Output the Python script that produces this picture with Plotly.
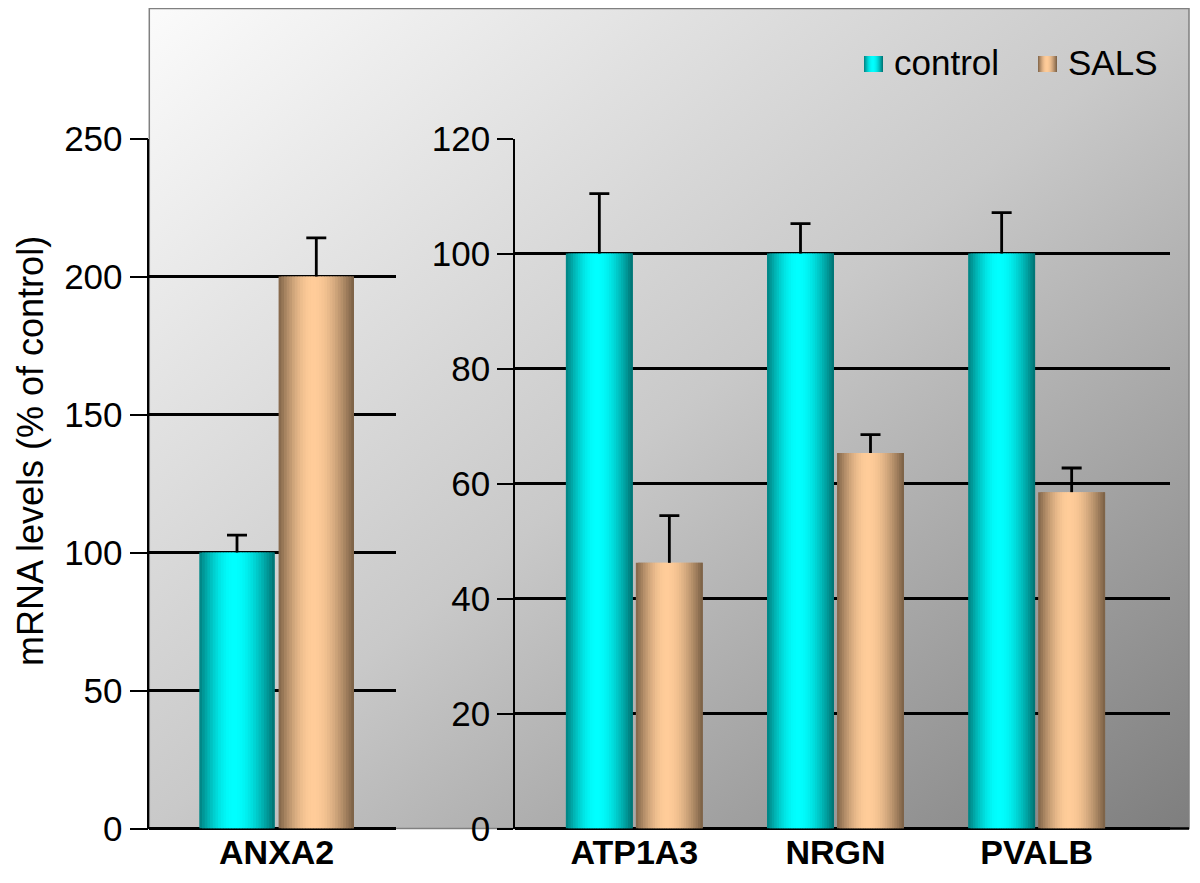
import base64
import math
import plotly.graph_objects as go

# ---------------- data ----------------
left_cats = ["ANXA2"]
left_control = [100]
left_sals = [200]
left_control_err = [6.3]
left_sals_err = [14.0]

right_cats = ["ATP1A3", "NRGN", "PVALB"]
right_control = [100, 100, 100]
right_sals = [46.2, 65.3, 58.5]
right_control_err = [10.4, 5.2, 7.1]
right_sals_err = [8.2, 3.2, 4.2]

series_names = ["control", "SALS"]
left_ticks = [0, 50, 100, 150, 200, 250]
right_ticks = [0, 20, 40, 60, 80, 100, 120]
y_title = "mRNA levels (% of control)"

# ---------------- style ----------------
OFF = 8                      # browser body margin
W, H = 1200 - OFF, 883 - OFF
FONT = "Liberation Sans, Arial, Helvetica, sans-serif"
CTRL_DARK_L, CTRL_BRIGHT, CTRL_DARK_R = (0, 128, 128), (0, 255, 255), (0, 112, 112)
SALS_DARK_L, SALS_BRIGHT, SALS_DARK_R = (128, 100, 72), (255, 204, 153), (120, 94, 68)


def px(x):
    return (x - OFF) / W


def py(y):
    return 1 - (y - OFF) / H


def shade(t, dl, br, dr):
    peak = 0.46
    if t < peak:
        f = math.sin(math.pi / 2 * t / peak)
        c0 = dl
    else:
        f = math.sin(math.pi / 2 * (1 - t) / (1 - peak))
        c0 = dr
    return "rgb(%d,%d,%d)" % tuple(round(a + (b - a) * f) for a, b in zip(c0, br))


fig = go.Figure()


def add_cylinder(cats, vals, errs, xa, ya, off0, w, cols, n=28):
    dl, br, dr = cols
    step = w / n
    for k in range(n):
        t = (k + 0.5) / n
        fig.add_trace(go.Bar(
            x=cats, y=vals, xaxis=xa, yaxis=ya,
            offset=off0 + k * step, width=min(step * 1.9, w - k * step),
            marker=dict(color=shade(t, dl, br, dr), line=dict(width=0)),
            showlegend=False, hoverinfo="skip"))
    # error bar stem (no caps)
    fig.add_trace(go.Bar(
        x=cats, y=vals, xaxis=xa, yaxis=ya, offset=off0, width=w,
        marker=dict(color="rgba(0,0,0,0)", line=dict(width=0)),
        error_y=dict(type="data", array=errs, arrayminus=[0] * len(errs), symmetric=False,
                     color="black", thickness=2.8, width=0),
        showlegend=False, hoverinfo="skip"))
    # error bar cap at the top end
    tops = [v + e for v, e in zip(vals, errs)]
    fig.add_trace(go.Bar(
        x=cats, y=tops, xaxis=xa, yaxis=ya, offset=off0, width=w,
        marker=dict(color="rgba(0,0,0,0)", line=dict(width=0)),
        error_y=dict(type="data", array=[0] * len(errs), symmetric=True,
                     color="black", thickness=2.8, width=10),
        showlegend=False, hoverinfo="skip"))


# left panel
wl, gl = 0.33, 0.017
add_cylinder(left_cats, left_control, left_control_err, "x", "y", -(wl + gl / 2), wl,
             (CTRL_DARK_L, CTRL_BRIGHT, CTRL_DARK_R))
add_cylinder(left_cats, left_sals, left_sals_err, "x", "y", gl / 2, wl,
             (SALS_DARK_L, SALS_BRIGHT, SALS_DARK_R))
# right panel
wr, gr = 0.333, 0.015
add_cylinder(right_cats, right_control, right_control_err, "x2", "y2", -(wr + gr / 2), wr,
             (CTRL_DARK_L, CTRL_BRIGHT, CTRL_DARK_R))
add_cylinder(right_cats, right_sals, right_sals_err, "x2", "y2", gr / 2, wr,
             (SALS_DARK_L, SALS_BRIGHT, SALS_DARK_R))

# ---------------- background gradient ----------------
bg_svg = ("<svg xmlns='http://www.w3.org/2000/svg' width='1040' height='820' viewBox='0 0 1040 820' "
          "preserveAspectRatio='none'><defs><linearGradient id='g' x1='0' y1='0' x2='1' y2='1'>"
          "<stop offset='0' stop-color='#fbfbfb'/><stop offset='0.5' stop-color='#c9c9c9'/>"
          "<stop offset='1' stop-color='#7e7e7e'/></linearGradient></defs>"
          "<rect x='0' y='0' width='1040' height='820' fill='url(#g)'/></svg>")


def svg_uri(s):
    return "data:image/svg+xml;base64," + base64.b64encode(s.encode()).decode()


def hgrad_svg(dl, br, dr):
    stops = "".join("<stop offset='%.3f' stop-color='%s'/>" % (t, shade(t, dl, br, dr))
                    for t in [i / 12 for i in range(13)])
    return ("<svg xmlns='http://www.w3.org/2000/svg' width='20' height='16' viewBox='0 0 20 16' "
            "preserveAspectRatio='none'><defs><linearGradient id='h' x1='0' y1='0' x2='1' y2='0'>"
            + stops + "</linearGradient></defs><rect width='20' height='16' fill='url(#h)'/></svg>")


box_l, box_t, box_r, box_b = 149.3, 8.5, 1189, 828.5
images = [dict(source=svg_uri(bg_svg), xref="paper", yref="paper", x=px(box_l), y=py(box_t),
               sizex=px(box_r) - px(box_l), sizey=py(box_t) - py(box_b), sizing="stretch",
               xanchor="left", yanchor="top", layer="below")]
# legend swatches
images.append(dict(source=svg_uri(hgrad_svg(CTRL_DARK_L, CTRL_BRIGHT, CTRL_DARK_R)), xref="paper",
                   yref="paper", x=px(864), y=py(56), sizex=19 / W, sizey=16 / H, sizing="stretch",
                   xanchor="left", yanchor="top", layer="above"))
images.append(dict(source=svg_uri(hgrad_svg(SALS_DARK_L, SALS_BRIGHT, SALS_DARK_R)), xref="paper",
                   yref="paper", x=px(1038), y=py(56), sizex=19 / W, sizey=16 / H, sizing="stretch",
                   xanchor="left", yanchor="top", layer="above"))

shapes = [
    dict(type="rect", xref="paper", yref="paper", x0=px(box_l), x1=px(box_r), y0=py(box_b), y1=py(box_t),
         line=dict(color="#808080", width=1.5), fillcolor="rgba(0,0,0,0)", layer="below"),
    dict(type="line", xref="paper", yref="paper", x0=px(1168), x1=px(box_r), y0=py(box_b), y1=py(box_b),
         line=dict(color="black", width=2.5), layer="above"),
]

annotations = [
    dict(text=y_title, xref="paper", yref="paper", x=px(30), y=py(451), textangle=-90,
         showarrow=False, font=dict(family=FONT, size=36, color="black"), xanchor="center", yanchor="middle"),
    dict(text=series_names[0], xref="paper", yref="paper", x=px(892), y=py(63), showarrow=False,
         font=dict(family=FONT, size=35, color="black"), xanchor="left", yanchor="middle"),
    dict(text=series_names[1], xref="paper", yref="paper", x=px(1066), y=py(63), showarrow=False,
         font=dict(family=FONT, size=35, color="black"), xanchor="left", yanchor="middle"),
]

ydom = [py(box_b), py(138.5)]
yax_common = dict(ticks="outside", tickwidth=2, tickcolor="black", showgrid=True, gridcolor="black",
                  gridwidth=2.5, zeroline=True, zerolinecolor="black", zerolinewidth=2.5,
                  showline=True, linecolor="black", linewidth=1.5, automargin=False,
                  tickfont=dict(family=FONT, size=35, color="black"), domain=ydom, fixedrange=True)
xax_common = dict(type="category", showgrid=False, zeroline=False, showline=False, ticks="",
                  automargin=False,
                  tickfont=dict(family="Liberation Sans, Arial, sans-serif", size=34, color="black",
                                weight="bold"), fixedrange=True)

fig.update_layout(
    template="none",
    width=W, height=H, autosize=False,
    margin=dict(l=0, r=0, t=0, b=0, pad=0),
    paper_bgcolor="white", plot_bgcolor="rgba(0,0,0,0)",
    barmode="overlay", showlegend=False,
    font=dict(family=FONT, color="black"),
    xaxis=dict(domain=[px(box_l), px(395.5)], range=[-0.5573, 0.5201], anchor="y", **xax_common),
    yaxis=dict(range=[0, 250], tickvals=left_ticks, ticklen=18, anchor="x", **yax_common),
    xaxis2=dict(domain=[px(515), px(1170)], range=[-0.5933, 2.6629], anchor="y2", **xax_common),
    yaxis2=dict(range=[0, 120], tickvals=right_ticks, ticklen=16, anchor="x2", **yax_common),
    images=images, shapes=shapes, annotations=annotations,
)

fig.write_html("out.html")
